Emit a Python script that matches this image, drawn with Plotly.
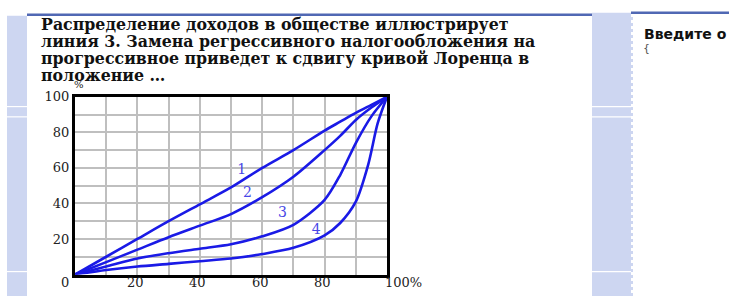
import plotly.graph_objects as go

# ---- data ----
x1 = [0, 10, 20, 30, 40, 50, 60, 70, 80, 85, 90, 95, 100]
y1 = [0, 10, 20, 30, 39.5, 49, 60, 70, 81, 86, 91, 95.5, 100]
x2 = [0, 10, 20, 30, 40, 50, 60, 70, 80, 85, 90, 95, 100]
y2 = [0, 7, 14, 21, 27.5, 34, 43.5, 55, 70, 78, 87, 94, 100]
x3 = [0, 10, 20, 30, 40, 50, 60, 70, 80, 85, 90, 95, 100]
y3 = [0, 4.5, 9, 12, 14.5, 17, 21.5, 28, 42, 56, 74, 89, 100]
x4 = [0, 10, 20, 30, 40, 50, 60, 70, 80, 85, 90, 94, 97, 100]
y4 = [0, 2.5, 4.5, 6, 7.5, 9, 11.5, 15, 22, 29, 41, 62, 85, 100]
curve_names = ["1", "2", "3", "4"]
label_x = [53.4, 55.3, 66.5, 77.3]
label_y = [58.8, 45.6, 34.1, 24.7]

grid_vals = [0, 10, 20, 30, 40, 50, 60, 70, 80, 90, 100]
y_tick_text = ["", "", "20", "", "40", "", "60", "", "80", "", "100"]
x_label_vals = [0, 20, 40, 60, 80, 100]
x_label_text = ["0", "20", "40", "60", "80", "100%"]

title_lines = [
    "Распределение доходов в обществе иллюстрирует",
    "линия 3. Замена регрессивного налогообложения на",
    "прогрессивное приведет к сдвигу кривой Лоренца в",
    "положение …",
]
side_text = "Введите о"

W, H = 729, 296
def px(x):
    return x / W
def py(y):
    return 1 - y / H

LAV = "#cdd6f1"
BLUE = "#1a1ae6"
TICKFONT = dict(family="DejaVu Serif", size=13, color="#222222")

fig = go.Figure()
for xs, ys in [(x1, y1), (x2, y2), (x3, y3), (x4, y4)]:
    fig.add_trace(go.Scatter(x=xs, y=ys, mode="lines",
                             line=dict(color=BLUE, width=2.6, shape="spline", smoothing=0.8),
                             showlegend=False, hoverinfo="skip"))

fig.add_trace(go.Scatter(x=label_x, y=label_y, mode="text", text=curve_names,
                         textfont=dict(family="DejaVu Serif", size=14, color="#4848e6"),
                         showlegend=False, hoverinfo="skip"))

shapes = []
shapes.append(dict(type="rect", xref="paper", yref="paper", x0=px(7), x1=px(27), y0=py(296), y1=py(9),
                   fillcolor=LAV, line=dict(width=0), layer="below"))
shapes.append(dict(type="rect", xref="paper", yref="paper", x0=px(592), x1=px(631), y0=py(296), y1=py(6),
                   fillcolor=LAV, line=dict(width=0), layer="below"))
shapes.append(dict(type="line", xref="paper", yref="paper", x0=px(632), x1=px(632), y0=py(296), y1=py(8),
                   line=dict(color=LAV, width=2, dash="dot"), layer="below"))
for yy in [102, 112.5, 271]:
    for a, b in [(7, 27), (592, 631)]:
        shapes.append(dict(type="line", xref="paper", yref="paper", x0=px(a), x1=px(b), y0=py(yy), y1=py(yy),
                           line=dict(color="white", width=1.2), layer="below"))
shapes.append(dict(type="line", xref="paper", yref="paper", x0=px(27), x1=px(592), y0=py(8), y1=py(8),
                   line=dict(color="#5068b4", width=2.5), layer="below"))
shapes.append(dict(type="line", xref="paper", yref="paper", x0=px(631), x1=px(729), y0=py(6), y1=py(6),
                   line=dict(color="#5068b4", width=2.5), layer="below"))

annotations = []
for line, yy in zip(title_lines, [18, 35.5, 53, 70]):
    annotations.append(dict(text=line, xref="paper", yref="paper", x=px(39), y=py(yy),
                            xanchor="left", yanchor="middle", showarrow=False,
                            font=dict(family="DejaVu Serif", size=15.8, color="#111111", weight="bold")))
annotations.append(dict(text=side_text, xref="paper", yref="paper", x=px(642), y=py(28),
                        xanchor="left", yanchor="middle", showarrow=False,
                        font=dict(family="DejaVu Sans", size=14, color="#111111", weight="bold")))
annotations.append(dict(text="{", xref="paper", yref="paper", x=px(641), y=py(43),
                        xanchor="left", yanchor="middle", showarrow=False,
                        font=dict(family="DejaVu Sans", size=11, color="#555555")))
annotations.append(dict(text="%", xref="paper", yref="paper", x=px(79), y=py(79),
                        xanchor="center", yanchor="middle", showarrow=False,
                        font=dict(family="DejaVu Serif", size=10, color="#222222")))
for v, t in zip(x_label_vals, x_label_text):
    if v == 0:
        anchor, shift = "center", -10
    elif v == 100:
        anchor, shift = "left", -4
    else:
        anchor, shift = "center", -2
    annotations.append(dict(text=t, x=v, y=0, xref="x", yref="y", xanchor=anchor, yanchor="middle",
                            xshift=shift, yshift=-8, showarrow=False, font=TICKFONT))

fig.update_layout(
    width=W, height=H,
    margin=dict(l=0, r=0, t=0, b=0),
    paper_bgcolor="white", plot_bgcolor="white",
    shapes=shapes, annotations=annotations,
    xaxis=dict(domain=[px(75), px(387)], range=[0, 100], tickvals=grid_vals, showticklabels=False,
               showgrid=True, gridcolor="#bfbfbf", gridwidth=2, zeroline=False,
               showline=True, linecolor="black", linewidth=3, mirror=True, ticks="", fixedrange=True),
    yaxis=dict(domain=[py(274), py(92)], range=[0, 100], tickvals=grid_vals, ticktext=y_tick_text,
               showgrid=True, gridcolor="#bfbfbf", gridwidth=2, zeroline=False,
               showline=True, linecolor="black", linewidth=3, mirror=True, ticks="",
               tickfont=TICKFONT, fixedrange=True),
)

fig.write_html("out.html", config={"displayModeBar": False},
               post_script="document.body.style.margin='0';document.body.style.overflow='hidden';")
